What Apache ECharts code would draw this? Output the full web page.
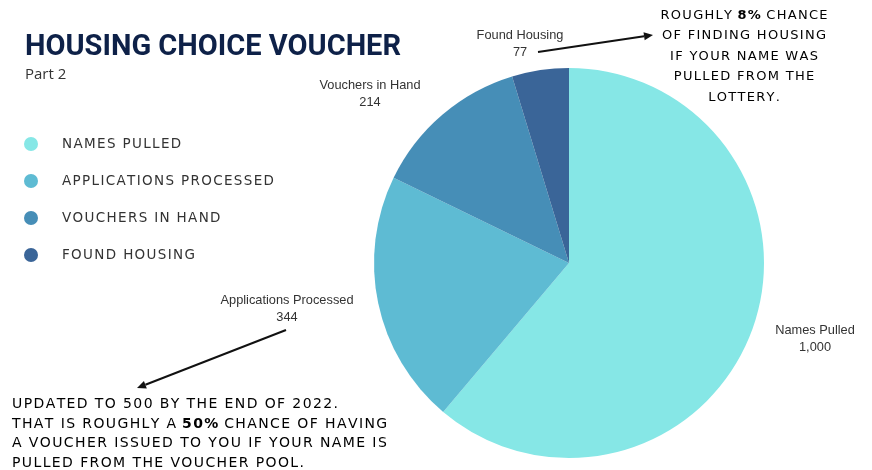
<!DOCTYPE html>
<html>
<head>
<meta charset="utf-8">
<script src="https://cdn.jsdelivr.net/npm/echarts@6/dist/echarts.min.js"></script>
<style>
  html, body { margin: 0; padding: 0; background: #ffffff; }
  #chart { width: 872px; height: 470px; }
</style>
</head>
<body>
<div id="chart"></div>
<script>
// Voucher pipeline stages and their counts
const categories = ['Names Pulled', 'Applications Processed', 'Vouchers in Hand', 'Found Housing'];
const counts = [1000, 344, 214, 77];
const sliceColors = ['#86E7E6', '#5EBBD3', '#468EB7', '#3A6598'];

// Where each slice's name/value label sits (pixel centres)
const labelSpots = [[815, 339], [287, 309], [370, 94], [520, 44]];

const FONT_LABEL = '"Liberation Sans", Arial, sans-serif';
const FONT_NOTE = '"DejaVu Sans", sans-serif';

// Spread uppercase text a little, like tracked lettering
function tracked(s) {
  return s.split('').join('\u200A');
}

function arrow(x1, y1, x2, y2) {
  const ang = Math.atan2(y2 - y1, x2 - x1);
  const len = 9, half = 4;
  const bx = x2 - len * Math.cos(ang), by = y2 - len * Math.sin(ang);
  const px = -Math.sin(ang) * half, py = Math.cos(ang) * half;
  return [
    { type: 'line', shape: { x1: x1, y1: y1, x2: bx, y2: by },
      style: { stroke: '#111', lineWidth: 2 } },
    { type: 'polygon', shape: { points: [[x2, y2], [bx + px, by + py], [bx - px, by - py]] },
      style: { fill: '#111' } }
  ];
}

const chart = echarts.init(document.getElementById('chart'));

const noteRich = {
  n: { fontFamily: FONT_NOTE, fontSize: 13, color: '#222', lineHeight: 20.5 },
  b: { fontFamily: FONT_NOTE, fontSize: 13, fontWeight: 'bold', color: '#111', lineHeight: 20.5 }
};
const noteRich2 = {
  n: { fontFamily: FONT_NOTE, fontSize: 14, color: '#222', lineHeight: 19.5 },
  b: { fontFamily: FONT_NOTE, fontSize: 14, fontWeight: 'bold', color: '#111', lineHeight: 19.5 }
};

chart.setOption({
  backgroundColor: '#ffffff',
  animation: false,
  color: sliceColors,
  title: {
    text: 'HOUSING CHOICE VOUCHER',
    subtext: 'Part 2',
    left: 20,
    top: 28,
    itemGap: 5,
    textStyle: { fontFamily: 'Roboto, sans-serif', fontSize: 29, fontWeight: 'bold', color: '#0E2148' },
    subtextStyle: { fontFamily: '"Open Sans", sans-serif', fontSize: 15, color: '#333' }
  },
  legend: {
    orient: 'vertical',
    left: 19,
    top: 132,
    padding: 5,
    icon: 'circle',
    itemWidth: 14,
    itemHeight: 14,
    itemGap: 23,
    data: categories,
    formatter: function (name) { return tracked(name.toUpperCase()); },
    textStyle: { fontFamily: FONT_NOTE, fontSize: 13.5, color: '#333', padding: [0, 0, 0, 19], lineHeight: 14 }
  },
  series: [{
    type: 'pie',
    center: [569, 263],
    radius: 195,
    startAngle: 90,
    clockwise: true,
    silent: true,
    data: categories.map(function (name, i) {
      return { name: name, value: counts[i] };
    }),
    label: {
      show: true,
      position: 'outside',
      overflow: 'none',
      fontFamily: FONT_LABEL,
      fontSize: 12.8,
      color: '#333',
      lineHeight: 17,
      formatter: function (p) {
        return p.name + '\n' + p.value.toLocaleString('en-US');
      }
    },
    labelLine: { show: false },
    labelLayout: function (p) {
      const s = labelSpots[p.dataIndex];
      return { x: s[0], y: s[1], width: 200, align: 'center', verticalAlign: 'middle' };
    }
  }],
  graphic: [
    {
      type: 'text', x: 744, y: 5,
      style: {
        text: [
          '{n|' + tracked('ROUGHLY ') + '}{b|' + tracked('8%') + '}{n|' + tracked(' CHANCE') + '}',
          '{n|' + tracked('OF FINDING HOUSING') + '}',
          '{n|' + tracked('IF YOUR NAME WAS') + '}',
          '{n|' + tracked('PULLED FROM THE') + '}',
          '{n|' + tracked('LOTTERY.') + '}'
        ].join('\n'),
        rich: noteRich,
        align: 'center',
        verticalAlign: 'top'
      }
    },
    {
      type: 'text', x: 12, y: 395,
      style: {
        text: [
          '{n|' + tracked('UPDATED TO 500 BY THE END OF 2022.') + '}',
          '{n|' + tracked('THAT IS ROUGHLY A ') + '}{b|' + tracked('50%') + '}{n|' + tracked(' CHANCE OF HAVING') + '}',
          '{n|' + tracked('A VOUCHER ISSUED TO YOU IF YOUR NAME IS') + '}',
          '{n|' + tracked('PULLED FROM THE VOUCHER POOL.') + '}'
        ].join('\n'),
        rich: noteRich2,
        align: 'left',
        verticalAlign: 'top'
      }
    }
  ].concat(arrow(538, 52, 653, 35), arrow(286, 330, 137, 388))
});
</script>
</body>
</html>
